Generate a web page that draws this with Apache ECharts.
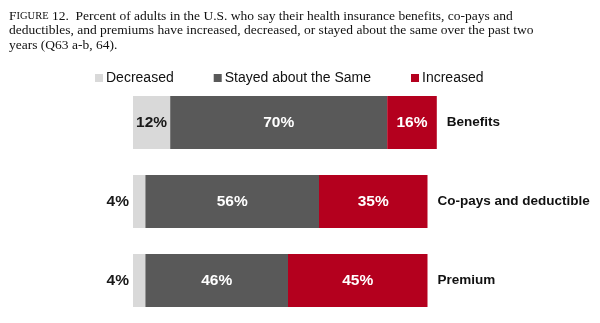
<!DOCTYPE html>
<html>
<head>
<meta charset="utf-8">
<script src="https://cdn.jsdelivr.net/npm/echarts@6/dist/echarts.min.js"></script>
<style>
  html, body { margin: 0; padding: 0; background: #fff; }
  #main { width: 600px; height: 323px; }
</style>
</head>
<body>
<div id="main"></div>
<script>
// 数据
const categories = ['Benefits', 'Co-pays and deductible', 'Premium']
const decreased = [12, 4, 4]
const stayedSame = [70, 56, 46]
const increased = [16, 35, 45]

const chart = echarts.init(document.getElementById('main'))

const boldLabel = {
  show: true,
  fontFamily: 'Liberation Sans, Arial, sans-serif',
  fontWeight: 'bold',
  fontSize: 15.5,
  formatter: '{c}%'
}

const option = {
  animation: false,
  backgroundColor: '#fff',
  title: {
    left: 4,
    top: 4,
    text: '{a|F}{b|IGURE} 12.  Percent of adults in the U.S. who say their health insurance benefits, co-pays and\n' +
      'deductibles, and premiums have increased, decreased, or stayed about the same over the past two\n' +
      'years (Q63 a-b, 64).',
    textStyle: {
      fontFamily: 'Liberation Serif, Times New Roman, serif',
      fontWeight: 'normal',
      fontSize: 13.5,
      lineHeight: 14.5,
      color: '#111',
      rich: {
        a: { fontFamily: 'Liberation Serif', fontSize: 13.5, color: '#111', lineHeight: 14.5 },
        b: { fontFamily: 'Liberation Serif', fontSize: 10.5, color: '#111', lineHeight: 14.5 }
      }
    }
  },
  legend: {
    left: 90,
    top: 66,
    itemWidth: 8,
    itemHeight: 8,
    itemGap: 40,
    icon: 'rect',
    data: ['Decreased', 'Stayed about the Same', 'Increased'],
    textStyle: {
      fontFamily: 'Liberation Sans, Arial, sans-serif',
      fontSize: 14,
      color: '#111',
      padding: [0, 0, 0, -2]
    }
  },
  grid: { left: 133, width: 310, top: 83, bottom: 3 },
  xAxis: {
    type: 'value',
    min: 0,
    max: 100,
    show: false
  },
  yAxis: {
    type: 'category',
    data: categories,
    inverse: true,
    show: false
  },
  series: [
    {
      name: 'Decreased',
      type: 'bar',
      stack: 'total',
      barWidth: 53,
      itemStyle: { color: '#d9d9d9' },
      label: { ...boldLabel, color: '#1a1a1a' },
      // 小数值的标签放在柱子左侧
      data: decreased.map(v => ({
        value: v,
        label: v < 10 ? { position: 'left', distance: 4 } : { position: 'inside' }
      }))
    },
    {
      name: 'Stayed about the Same',
      type: 'bar',
      stack: 'total',
      itemStyle: { color: '#595959' },
      label: { ...boldLabel, color: '#fff', position: 'inside' },
      data: stayedSame
    },
    {
      name: 'Increased',
      type: 'bar',
      stack: 'total',
      itemStyle: { color: '#b4001e' },
      label: { ...boldLabel, color: '#fff', position: 'inside' },
      data: increased
    },
    {
      // 类别名称跟在柱子末端
      name: 'categoryName',
      type: 'bar',
      stack: 'total',
      itemStyle: { color: 'transparent' },
      label: {
        show: true,
        position: 'right',
        distance: 10,
        fontFamily: 'Liberation Sans, Arial, sans-serif',
        fontWeight: 'bold',
        fontSize: 13.5,
        color: '#111',
        formatter: p => p.name
      },
      data: categories.map(() => 0)
    }
  ]
}

chart.setOption(option)
</script>
</body>
</html>
